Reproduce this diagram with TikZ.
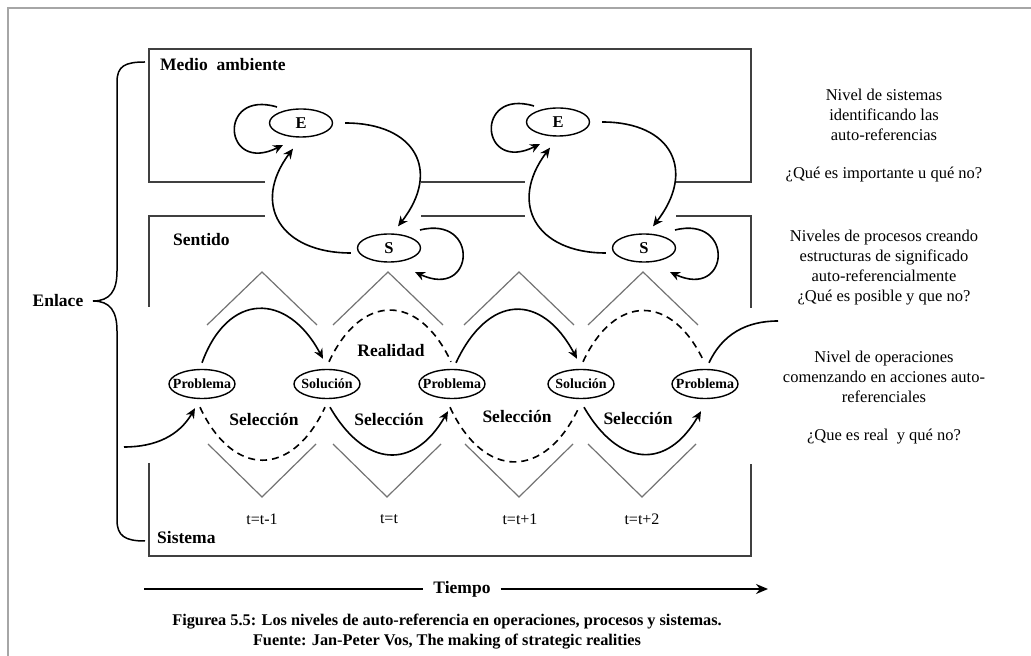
\documentclass[tikz,border=0pt]{standalone}
\usepackage{fontspec}
\setmainfont{Liberation Serif}
\usetikzlibrary{arrows.meta,positioning,calc,shapes.geometric}

\begin{document}
\begin{tikzpicture}[x=1pt,y=1pt,
    box/.style={draw=black!75,line width=1.8pt},
    zig/.style={draw=black!55,line width=1.2pt},
    arc/.style={draw,line width=1.6pt,-{Stealth[length=10pt,width=9pt]}},
    darc/.style={draw,line width=1.6pt,dash pattern=on 7pt off 5pt},
    lvl/.style={inner sep=0pt,font=\fontsize{17.5}{20}\selectfont\bfseries},
    es/.style={draw,ellipse,line width=1.4pt,minimum width=63pt,minimum height=28pt,inner sep=0pt,font=\fontsize{16.5}{16}\selectfont\bfseries},
    ps/.style={draw,ellipse,line width=1.4pt,inner xsep=-6pt,inner ysep=0pt,minimum width=66pt,minimum height=29pt,text height=10pt,text depth=0pt,font=\fontsize{14}{14}\selectfont\bfseries},
    note/.style={align=center,inner sep=0pt,font=\fontsize{16.5}{20}\selectfont},
    tlab/.style={font=\fontsize{16}{16}\selectfont}]

    \useasboundingbox (0,0) rectangle (1031,656);
    \draw[black!35,line width=2pt] (8,0) -- (8,648) -- (1031,648);

    \draw[box] (265,474) -- (149,474) -- (149,607) -- (751,607) -- (751,474) -- (676,474);
    \draw[box] (421,474) -- (525,474);
    \draw[box] (149,349) -- (149,440) -- (265,440);
    \draw[box] (421,440) -- (525,440);
    \draw[box] (676,440) -- (751,440) -- (751,348);
    \draw[box] (149,193) -- (149,100) -- (751,100) -- (751,192);

    \node[lvl,anchor=west] (medio) at (160,591) {Medio~ ambiente};
    \node[lvl,anchor=west] (sentido) at (173,416) {Sentido};
    \node[lvl,anchor=west] (sistema) at (157,118) {Sistema};
    \node[lvl] (enlace) at (58,355) {Enlace};

    \draw[line width=1.5pt] (145,594) .. controls (125,594) and (117,590) .. (117,574) -- (117,385)
        .. controls (117,365) and (110,355) .. (93,355) .. controls (110,355) and (117,345) .. (117,325)
        -- (117,136) .. controls (117,120) and (125,115) .. (145,115);

    \node[es] (e1) at (301,533) {E};
    \node[es] (s1) at (389,408) {S};
    \node[es] (e2) at (558,534) {E};
    \node[es] (s2) at (644,408) {S};

    \draw[arc] ([xshift=12pt]e1.east) to[out=0,in=52,looseness=1.55] ([xshift=9pt,yshift=7pt]s1.north);
    \draw[arc] ([xshift=-6pt,yshift=-5pt]s1.west) to[out=180,in=233,looseness=1.5] ([xshift=-8pt,yshift=-11pt]e1.south);
    \draw[arc] ($(e1)+(-24,16)$) .. controls +(-60,18) and +(-60,-30) .. ($(e1)+(-18,-22)$);
    \draw[arc] ($(s1)+(31,18)$) .. controls +(60,15) and +(60,-28) .. ($(s1)+(26,-24)$);

    \draw[arc] ([xshift=12pt]e2.east) to[out=0,in=52,looseness=1.55] ([xshift=9pt,yshift=7pt]s2.north);
    \draw[arc] ([xshift=-6pt,yshift=-5pt]s2.west) to[out=180,in=233,looseness=1.5] ([xshift=-8pt,yshift=-11pt]e2.south);
    \draw[arc] ($(e2)+(-24,16)$) .. controls +(-60,18) and +(-60,-30) .. ($(e2)+(-18,-22)$);
    \draw[arc] ($(s2)+(31,18)$) .. controls +(60,15) and +(60,-28) .. ($(s2)+(26,-24)$);

    \draw[zig] (207,331) -- (262,384) -- (317,331);
    \draw[zig] (333,331) -- (388,384) -- (443,331);
    \draw[zig] (464,331) -- (519,384) -- (574,331);
    \draw[zig] (588,331) -- (643,384) -- (698,331);
    \draw[zig] (208,212) -- (262,159) -- (316,212);
    \draw[zig] (333,212) -- (387,159) -- (441,212);
    \draw[zig] (465,212) -- (519,159) -- (573,212);
    \draw[zig] (588,212) -- (642,159) -- (696,212);

    \node[ps] (p1) at (202,272) {Problema};
    \node[ps] (so1) at (327,272) {Solución};
    \node[ps] (p2) at (452,272) {Problema};
    \node[ps] (so2) at (581,272) {Solución};
    \node[ps] (p3) at (705,272) {Problema};
    \coordinate (inL) at (124,209);
    \coordinate (outR) at (778,335);

    \draw[arc] ([yshift=6pt]p1.north) to[out=70,in=118,looseness=1.6] ([xshift=-4pt,yshift=10pt]so1.north);
    \draw[darc] ([xshift=2pt,yshift=7pt]so1.north) to[out=65,in=115,looseness=1.6] ([xshift=-1pt,yshift=7pt]p2.north);
    \draw[arc] ([xshift=4pt,yshift=6pt]p2.north) to[out=65,in=118,looseness=1.6] ([xshift=-4pt,yshift=10pt]so2.north);
    \draw[darc] ([xshift=2pt,yshift=7pt]so2.north) to[out=65,in=115,looseness=1.6] ([xshift=-1pt,yshift=7pt]p3.north);
    \draw[line width=1.6pt] ([xshift=4pt,yshift=6pt]p3.north) to[out=65,in=180] (outR);

    \draw[arc] (inL) to[out=0,in=-120] ([xshift=-7pt,yshift=-9pt]p1.south);
    \draw[darc] ([xshift=-2pt,yshift=-8pt]p1.south) to[out=-65,in=-115,looseness=1.6] ([xshift=-2pt,yshift=-8pt]so1.south);
    \draw[arc] ([xshift=3pt,yshift=-8pt]so1.south) to[out=-60,in=-120,looseness=1.5] ([xshift=-4pt,yshift=-12pt]p2.south);
    \draw[darc] ([xshift=-2pt,yshift=-8pt]p2.south) to[out=-65,in=-115,looseness=1.6] ([xshift=-2pt,yshift=-8pt]so2.south);
    \draw[arc] ([xshift=3pt,yshift=-8pt]so2.south) to[out=-60,in=-120,looseness=1.5] ([xshift=-4pt,yshift=-12pt]p3.south);

    \node[lvl] (real) at (391,305) {Realidad};
    \node[lvl] (sel1) at (264,236) {Selección};
    \node[lvl] (sel2) at (389,236) {Selección};
    \node[lvl] (sel3) at (517,239) {Selección};
    \node[lvl] (sel4) at (638,237) {Selección};

    \node[tlab] (t1) at (262,137) {t=t-1};
    \node[tlab] (t2) at (389,137) {t=t};
    \node[tlab] (t3) at (520,137) {t=t+1};
    \node[tlab] (t4) at (642,137) {t=t+2};

    \node[note] (n1) at (884,541) {Nivel de sistemas\\identificando las\\auto-referencias};
    \node[note] (q1) at (884,481) {¿Qué es importante u qué no?};
    \node[note] (n2) at (884,388) {Niveles de procesos creando\\estructuras de significado\\auto-referencialmente\\¿Qué es posible y que no?};
    \node[note] (n3) at (884,279) {Nivel de operaciones\\comenzando en acciones auto-\\referenciales};
    \node[note] (q3) at (884,219) {¿Que es real~ y qué no?};

    \coordinate (tl) at (144,67);
    \coordinate (tr) at (768,67);
    \node[lvl,inner xsep=10pt] (tiempo) at (462,67) {Tiempo};
    \draw[line width=1.5pt] (tl) -- (tiempo.west);
    \draw[line width=1.5pt,-{Stealth[length=12pt,width=10pt]}] (tiempo.east) -- (tr);

    \node[align=center,font=\fontsize{16.3}{20}\selectfont\bfseries] (cap) at (447,24)
        {Figurea 5.5: Los niveles de auto-referencia en operaciones, procesos y sistemas.\\Fuente: Jan-Peter Vos, The making of strategic realities};
\end{tikzpicture}
\end{document}
